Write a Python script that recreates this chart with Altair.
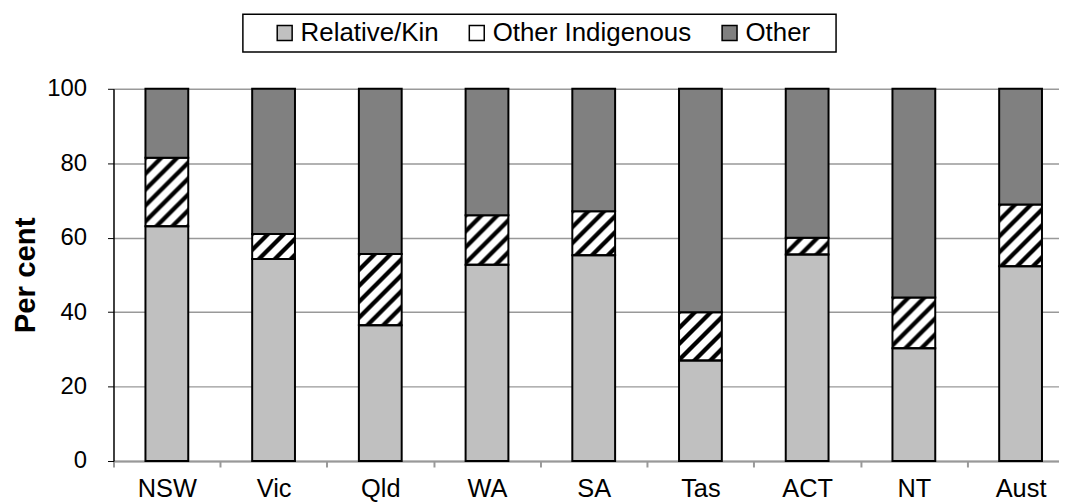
import base64
import altair as alt
import pandas as pd

# ---- data ----
states = ["NSW", "Vic", "Qld", "WA", "SA", "Tas", "ACT", "NT", "Aust"]
series_names = ["Relative/Kin", "Other Indigenous", "Other"]
relative_kin = [63.1, 54.3, 36.5, 52.7, 55.3, 27.0, 55.5, 30.3, 52.3]
other_indigenous = [18.4, 6.7, 19.1, 13.3, 11.8, 13.0, 4.5, 13.6, 16.6]
other = [18.5, 39.0, 44.4, 34.0, 32.9, 60.0, 40.0, 56.1, 31.1]
y_ticks = [0, 20, 40, 60, 80, 100]

rows = []
for i, s in enumerate(states):
    lo = 0.0
    for name, vals in zip(series_names, [relative_kin, other_indigenous, other]):
        v = vals[i]
        rows.append({"state": s, "series": name, "value": v, "lo": lo, "hi": lo + v})
        lo += v
df = pd.DataFrame(rows)

# hatch tile (drawn at pixel scale, no viewBox, so stripes keep 45 degrees)
hatch_svg = (
    '<svg xmlns="http://www.w3.org/2000/svg" width="100%" height="100%">'
    '<defs><pattern id="h" width="16" height="16" patternUnits="userSpaceOnUse">'
    '<rect width="16" height="16" fill="white"/>'
    '<path d="M-4,4 L4,-4 M0,16 L16,0 M12,20 L20,12" stroke="black" stroke-width="4.3"/>'
    '</pattern></defs><rect width="100%" height="100%" fill="url(#h)"/></svg>'
)
hatch_uri = "data:image/svg+xml;base64," + base64.b64encode(hatch_svg.encode()).decode()

BLANK = "\u2800"

x_enc = alt.X(
    "state:N",
    sort=states,
    scale=alt.Scale(paddingInner=0, paddingOuter=0, range=[0, 965]),
    axis=alt.Axis(
        title=None, labelAngle=0, labelFontSize=25.5, labelColor="black",
        labelPadding=10, tickBand="extent", tickSize=6, tickColor="#999999",
        tickWidth=2, domainColor="#999999", domainWidth=2, grid=False,
    ),
)
y_enc = alt.Y(
    "lo:Q",
    scale=alt.Scale(domain=[0, 100], nice=False),
    axis=alt.Axis(
        title="Per cent", titleFontSize=29.5, titleFontWeight="bold",
        titleColor="black", titlePadding=6, values=y_ticks,
        labelFontSize=24, labelColor="black", labelPadding=21,
        tickSize=6, tickColor="black", domainColor="black", domainWidth=1.5,
        gridColor="#999999", gridWidth=1.5,
    ),
)

hatch = (
    alt.Chart(df)
    .transform_filter(alt.datum.series == "Other Indigenous")
    .mark_image(width=43, align="center", baseline="top", aspect=False)
    .encode(
        x=x_enc,
        y=alt.Y("hi:Q"),
        y2=alt.Y2("lo:Q"),
        url=alt.value(hatch_uri),
    )
)

bars = (
    alt.Chart(df)
    .mark_bar(size=43, stroke="black", strokeWidth=2, opacity=1)
    .encode(
        x=x_enc,
        y=y_enc,
        y2=alt.Y2("hi:Q"),
        color=alt.Color(
            "series:N",
            scale=alt.Scale(domain=series_names, range=["#c0c0c0", "transparent", "#808080"]),
            legend=alt.Legend(
                title="\u2014", titleOrient="left", titleFontSize=22, titlePadding=1,
                titleColor="white",
                orient="none", legendX=130, legendY=-75, direction="horizontal",
                labelFontSize=26, labelColor="black", labelLimit=600,
                symbolType="square",
                symbolSize=225, symbolStrokeColor="black", symbolStrokeWidth=1.5,
                symbolOpacity=1, labelOffset=3, columnPadding=25, padding=6,
                strokeColor="black", fillColor="white",
                labelExpr="datum.label == 'Other' ? 'Other" + BLANK + "' : datum.label",
            ),
        ),
    )
)

chart = (
    alt.layer(hatch, bars)
    .properties(
        width=950, height=374,
        autosize=alt.AutoSizeParams(type="none"),
        padding={"left": 106, "top": 80, "right": 0, "bottom": 41},
    )
    .configure(font="Liberation Sans")
    .configure_view(strokeWidth=0)
    .configure_legend(strokeWidth=1.5)
)

chart.save("out.html", embed_options={"renderer": "svg", "actions": False})
